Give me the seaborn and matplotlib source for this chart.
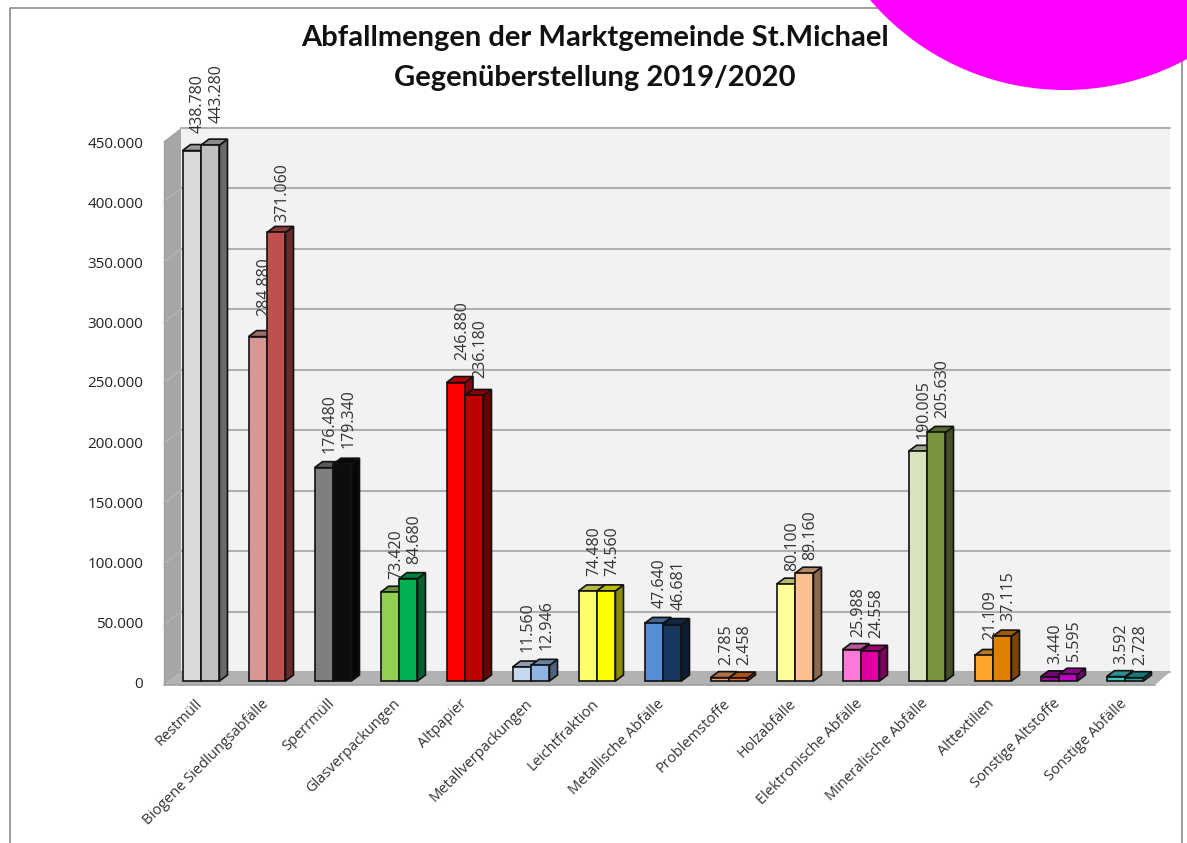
import matplotlib
matplotlib.use("Agg")
import matplotlib.pyplot as plt
from matplotlib.colors import to_rgb
from matplotlib.patches import Polygon, Circle
from matplotlib.transforms import ScaledTranslation
import pandas as pd
import seaborn as sns

categories = ["Restmüll", "Biogene Siedlungsabfälle", "Sperrmüll", "Glasverpackungen", "Altpapier",
              "Metallverpackungen", "Leichtfraktion", "Metallische Abfälle", "Problemstoffe", "Holzabfälle",
              "Elektronische Abfälle", "Mineralische Abfälle", "Alttextilien", "Sonstige Altstoffe", "Sonstige Abfälle"]
values_2019 = [438780, 284880, 176480, 73420, 246880, 11560, 74480, 47640, 2785, 80100, 25988, 190005, 21109, 3440, 3592]
values_2020 = [443280, 371060, 179340, 84680, 236180, 12946, 74560, 46681, 2458, 89160, 24558, 205630, 37115, 5595, 2728]
colors_2019 = ["#d9d9d9", "#d99694", "#7f7f7f", "#92d050", "#ff0000", "#c6d9f1", "#ffff66", "#558ed5",
               "#f0a060", "#ffff99", "#ff79d9", "#d7e4bc", "#ffa52c", "#a000a0", "#40c4c4"]
colors_2020 = ["#bfbfbf", "#c0504d", "#0d0d0d", "#00b050", "#c00000", "#8eb4e3", "#ffff00", "#17375e",
               "#f07020", "#fac090", "#dd00a0", "#77933c", "#e08000", "#c000c0", "#20a8a8"]
y_ticks = [0, 50000, 100000, 150000, 200000, 250000, 300000, 350000, 400000, 450000]
title_lines = ["Abfallmengen der Marktgemeinde St.Michael", "Gegenüberstellung 2019/2020"]

# extra lift of single value labels, pixels
nudge_2019 = [18, 21, 15, 13, 23, 15, 15, 15, 13, 13, 13, 12, 15, 13, 13]
nudge_2020 = [22, 10, 16, 15, 17, 15, 15, 15, 13, 13, 13, 14, 15, 13, 13]

W, H = 1187, 843


def dotted(v):
    return f"{v:,}".replace(",", ".")


def shade(c, f):
    r, g, b = to_rgb(c)
    return (r * f, g * f, b * f)


def axes_px(x0, y0, x1, y1):
    # rect given in image pixels (y downwards)
    return [x0 / W, 1 - y1 / H, (x1 - x0) / W, (y1 - y0) / H]


sns.set_theme(style="white")
plt.rcParams["font.family"] = ["Open Sans", "DejaVu Sans"]

df = pd.DataFrame({"kategorie": categories * 2,
                   "menge": values_2019 + values_2020,
                   "jahr": ["2019"] * 15 + ["2020"] * 15})

fig = plt.figure(figsize=(W / 100, H / 100), dpi=100, facecolor="white")

# back wall with the grid
wall = fig.add_axes(axes_px(181, 128, 1170, 672), zorder=0, facecolor="#f2f2f2")
wall.set_ylim(0, 450000)
wall.set_xlim(0, 1)
wall.set_yticks(y_ticks)
wall.set_xticks([])
wall.tick_params(labelleft=False, left=False)
wall.grid(axis="y", color="#b0b0b0", lw=1.5)
wall.set_axisbelow(True)
sns.despine(ax=wall, left=True, bottom=True, right=True, top=True)
for line in wall.get_ygridlines():
    line.set_clip_on(False)

# floor, side wall, frame, blob, title
deco = fig.add_axes([0, 0, 1, 1], zorder=1)
deco.set_xlim(0, W)
deco.set_ylim(H, 0)
deco.axis("off")
deco.patch.set_alpha(0)
deco.add_patch(Polygon([(164, 141), (181, 128), (181, 672), (164, 685)], fc="#a6a6a6", ec="none"))
deco.add_patch(Polygon([(164, 685), (181, 672), (1170, 672), (1155, 685)], fc="#b2b2b2", ec="none"))
for t in y_ticks[1:-1]:
    yy = 672 - t / 450000 * 544
    deco.plot([164, 181], [yy + 13, yy], color="#b4b4b4", lw=1)
deco.plot([164, 164], [141, 685], color="#a0a0a0", lw=1)
deco.plot([164, 1155], [685, 685], color="#a0a0a0", lw=1.2)
deco.plot([10, 10, 1182, 1182], [H, 8, 8, H], color="#8c8c8c", lw=1.2)
deco.add_patch(Circle((1065, -166), 256, fc="#ff00ff", ec="none", zorder=5))
for yy, line in zip([38, 78], title_lines):
    deco.text(595, yy, line, ha="center", va="center", fontsize=21, fontweight="bold",
              family=["Lato", "DejaVu Sans"], color="#111111")

# value axis labels
scale = fig.add_axes(axes_px(164, 142, 1155, 682), zorder=1)
scale.patch.set_alpha(0)
scale.set_ylim(0, 450000)
scale.set_xticks([])
scale.set_yticks(y_ticks)
scale.set_yticklabels([dotted(t) for t in y_ticks], fontsize=11, color="#222222")
scale.tick_params(axis="y", length=0, pad=15)
sns.despine(ax=scale, left=True, bottom=True)

# the bars
ax = fig.add_axes(axes_px(168, 137, 1158, 681), zorder=2)
ax.patch.set_alpha(0)
sns.barplot(data=df, x="kategorie", y="menge", hue="jahr", width=0.56, gap=0, legend=False, ax=ax,
            edgecolor="#111111", linewidth=1.2)
ax.set_xlim(-0.5, 14.5)
ax.set_ylim(0, 450000)
ax.set_yticks([])
ax.set_xlabel("")
ax.set_ylabel("")
sns.despine(ax=ax, left=True, bottom=True)
ax.set_xticks(range(len(categories)))
ax.set_xticklabels(categories, rotation=45, ha="right", rotation_mode="anchor", fontsize=10.5, color="#333333")
ax.tick_params(axis="x", length=0, pad=11)
for lab in ax.get_xticklabels():
    lab.set_transform(lab.get_transform() + ScaledTranslation(-6 / 100, 0, fig.dpi_scale_trans))

px_x = 15 / 990
px_y = 450000 / 544
dx, dy = 8 * px_x, 6 * px_y

z = 3
for cont, cols, lifts in zip(ax.containers, [colors_2019, colors_2020], [nudge_2019, nudge_2020]):
    for bar, col, lift in zip(cont, cols, lifts):
        bar.set_facecolor(col)
        bar.set_clip_on(False)
        x0, x1 = bar.get_x(), bar.get_x() + bar.get_width()
        top = bar.get_height()
        ax.add_patch(Polygon([(x1, 0), (x1 + dx, dy), (x1 + dx, top + dy), (x1, top)], fc=shade(col, 0.55),
                             ec="#111111", lw=1.2, zorder=z, clip_on=False))
        ax.add_patch(Polygon([(x0, top), (x0 + dx, top + dy), (x1 + dx, top + dy), (x1, top)], fc=shade(col, 0.72),
                             ec="#111111", lw=1.2, zorder=z, clip_on=False))
        bar.set_zorder(z + 1)
        ax.annotate(dotted(int(top)), (x0 + bar.get_width() / 2, top), xytext=(6, lift), textcoords="offset pixels",
                    rotation=90, ha="center", va="bottom", fontsize=11.5, color="#333333", zorder=20,
                    annotation_clip=False)
    z += 2

fig.savefig("out.png", dpi=100)
